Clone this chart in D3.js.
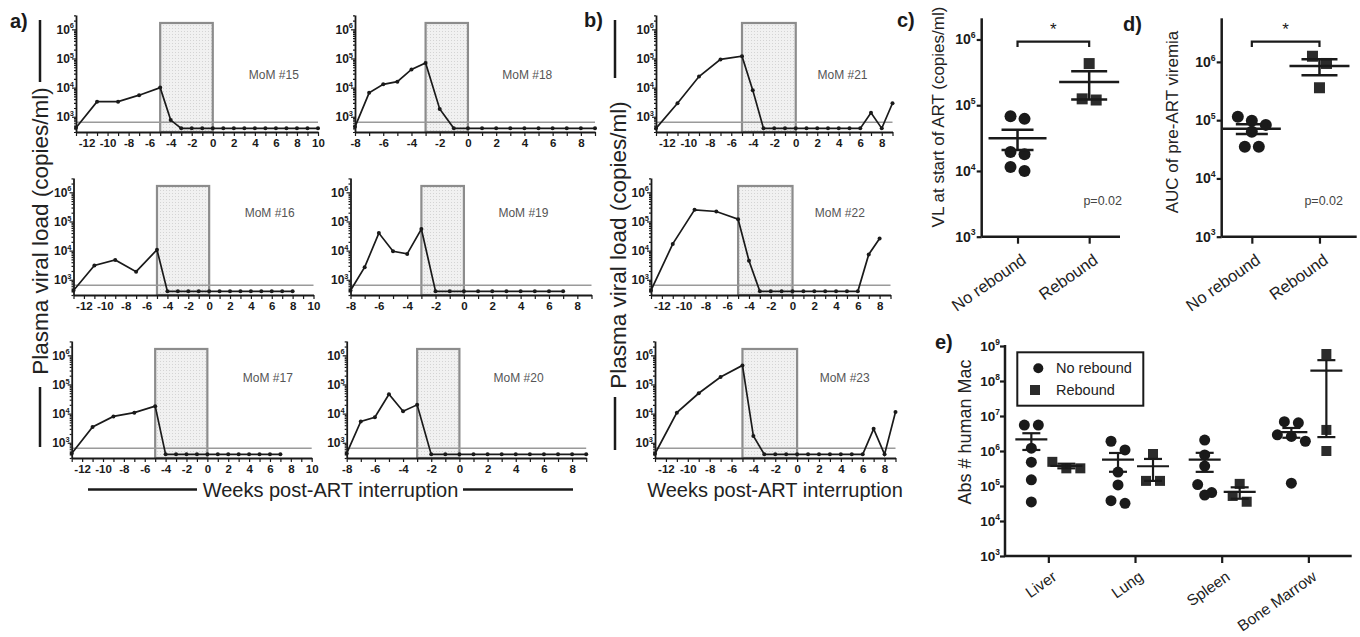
<!DOCTYPE html>
<html>
<head>
<meta charset="utf-8">
<script src="https://cdn.jsdelivr.net/npm/d3@7"></script>
<style>
body{margin:0;background:#fff;}
svg{font-family:Arial,"Liberation Sans",sans-serif;}
</style>
</head>
<body>
<svg id="chart" width="1360" height="637"></svg>
<script>
// ---- data: viral load per animal (copies/ml), weeks post-ART interruption
var mom15Weeks = [-13,-11,-9,-7,-5,-4,-3,-2,-1,0,1,2,3,4,5,6,7,8,9,10];
var mom15VL    = [420,3300,3300,5500,10000,770,400,400,400,400,400,400,400,400,400,400,400,400,400,400];
var mom18Weeks = [-8,-7,-6,-5,-4,-3,-2,-1,0,1,2,3,4,5,6,7,8,9];
var mom18VL    = [450,6600,13000,16000,42000,70000,1850,400,400,400,400,400,400,400,400,400,400,400];
var mom16Weeks = [-13,-11,-9,-7,-5,-4,-3,-2,-1,0,1,2,3,4,5,6,7,8];
var mom16VL    = [430,3100,4800,1900,10700,400,400,400,400,400,400,400,400,400,400,400,400,400];
var mom19Weeks = [-8,-7,-6,-5,-4,-3,-2,-1,0,1,2,3,4,5,6,7];
var mom19VL    = [430,2700,40000,9500,7700,55000,400,400,400,400,400,400,400,400,400,400];
var mom17Weeks = [-13,-11,-9,-7,-5,-4,-3,-2,-1,0,1,2,3,4,5,6,7];
var mom17VL    = [430,3500,8000,10800,18000,400,400,400,400,400,400,400,400,400,400,400,400];
var mom20Weeks = [-8,-7,-6,-5,-4,-3,-2,-1,0,1,2,3,4,5,6,7,8,9];
var mom20VL    = [430,5400,7500,46000,12000,20000,400,400,400,400,400,400,400,400,400,400,400,400];
var mom21Weeks = [-13,-11,-9,-7,-5,-4,-3,-2,-1,0,1,2,3,4,5,6,7,8,9];
var mom21VL    = [400,2900,24000,93000,120000,8200,400,400,400,400,400,400,400,400,400,400,1370,400,2900];
var mom22Weeks = [-13,-11,-9,-7,-5,-4,-3,-2,-1,0,1,2,3,4,5,6,7,8];
var mom22VL    = [430,17000,250000,220000,120000,4500,400,400,400,400,400,400,400,400,400,400,7400,26000];
var mom23Weeks = [-13,-11,-9,-7,-5,-4,-3,-2,-1,0,1,2,3,4,5,6,7,8,9];
var mom23VL    = [420,10800,50000,180000,450000,1700,400,400,400,400,400,400,400,400,400,400,3000,400,11300];
var detectionLimit = 650;

// panel c / d
var groups = ["No rebound", "Rebound"];
var cNoRebound = [62000, 68000, 19500, 18000, 10000, 11500];
var cRebound   = [430000, 120000, 125000];
var dNoRebound = [114000, 98000, 83000, 63000, 35000, 35000];
var dRebound   = [1250000, 940000, 360000];

// panel e
var tissues = ["Liver", "Lung", "Spleen", "Bone Marrow"];
var eNoRebound = [
  [5.5e6, 5.5e6, 1.2e6, 4.8e5, 1.5e5, 3.5e4],
  [1.9e6, 1.07e6, 2.5e5, 1.07e5, 3.8e4, 3.2e4],
  [2.05e6, 7.7e5, 3.7e5, 1.1e5, 6.5e4, 5.5e4],
  [6.9e6, 6.4e6, 2.9e6, 2.6e6, 1.9e6, 1.2e5]
];
var eRebound = [
  [4.9e5, 3.2e5, 3.2e5],
  [8.2e5, 1.4e5, 1.4e5],
  [1.15e5, 5.2e4, 3.55e4],
  [5.9e8, 4e6, 1e6]
];

var svg = d3.select("#chart");
var ink = "#1a1a1a";

// ---- layout of the small viral load panels
var rowBase = [132, 295, 458];
var labelY = [79, 217, 382];
var vlPanels = [
  {name:"MoM #15", weeks:mom15Weeks, vl:mom15VL, row:0, x0:76,    w:242,   xmin:-13, xmax:10, box:-5, labelAt:5.8},
  {name:"MoM #18", weeks:mom18Weeks, vl:mom18VL, row:0, x0:355,   w:240,   xmin:-8,  xmax:9,  box:-3, labelAt:4.2},
  {name:"MoM #16", weeks:mom16Weeks, vl:mom16VL, row:1, x0:73.5,  w:240,   xmin:-13, xmax:10, box:-5, labelAt:5.8},
  {name:"MoM #19", weeks:mom19Weeks, vl:mom19VL, row:1, x0:350.5, w:241,   xmin:-8,  xmax:9,  box:-3, labelAt:4.2},
  {name:"MoM #17", weeks:mom17Weeks, vl:mom17VL, row:2, x0:71.7,  w:240,   xmin:-13, xmax:10, box:-5, labelAt:5.8},
  {name:"MoM #20", weeks:mom20Weeks, vl:mom20VL, row:2, x0:346.7, w:239.5, xmin:-8,  xmax:9,  box:-3, labelAt:4.2},
  {name:"MoM #21", weeks:mom21Weeks, vl:mom21VL, row:0, x0:656,   w:236.5, xmin:-13, xmax:9,  box:-5, labelAt:4.35},
  {name:"MoM #22", weeks:mom22Weeks, vl:mom22VL, row:1, x0:651,   w:239.5, xmin:-13, xmax:9,  box:-5, labelAt:4.35},
  {name:"MoM #23", weeks:mom23Weeks, vl:mom23VL, row:2, x0:655,   w:240.5, xmin:-13, xmax:9,  box:-5, labelAt:4.35}
];

// dotted fill of the ART box
var defs = svg.append("defs");
var pat = defs.append("pattern").attr("id","dots").attr("width",3).attr("height",3)
  .attr("patternUnits","userSpaceOnUse");
pat.append("rect").attr("width",3).attr("height",3).attr("fill","#f1f1f1");
pat.append("rect").attr("x",1).attr("y",1).attr("width",1).attr("height",1).attr("fill","#d4d4d4");

function supLabel(g, x, y, exp, size, weight){
  var t = g.append("text").attr("x", x).attr("y", y).attr("text-anchor","end")
    .attr("font-size", size).attr("font-weight", weight).attr("fill", ink);
  t.append("tspan").text("10");
  t.append("tspan").attr("dy", -size*0.45).attr("font-size", size*0.62).text(exp);
}

function minorValues(lo, hi){
  var out = [];
  for (var k = 1; k <= 9; k++){
    for (var m = 2; m <= 9; m++){
      var v = m*Math.pow(10,k);
      if (v >= lo && v <= hi) out.push(v);
    }
  }
  return out;
}

function drawVL(p){
  var base = rowBase[p.row];
  var x = d3.scaleLinear().domain([p.xmin, p.xmax]).range([p.x0, p.x0 + p.w]);
  var y = d3.scaleLog().domain([300, 3.1e6]).range([base, base - 117]);
  var g = svg.append("g");

  // ART interruption box
  g.append("rect")
    .attr("x", x(p.box)).attr("y", y(1.65e6))
    .attr("width", x(0) - x(p.box)).attr("height", base - y(1.65e6))
    .attr("fill","url(#dots)").attr("stroke","#8c8c8c").attr("stroke-width",2.2);

  // limit of detection
  g.append("line").attr("x1", p.x0).attr("x2", p.x0 + p.w)
    .attr("y1", y(detectionLimit)).attr("y2", y(detectionLimit))
    .attr("stroke","#9a9a9a").attr("stroke-width",1.5);

  // axes
  var xa = g.append("g").attr("transform","translate(0," + base + ")")
    .call(d3.axisBottom(x).tickValues(d3.range(p.xmin, p.xmax + 1)).tickSize(4).tickSizeOuter(0)
      .tickPadding(3).tickFormat(function(d){ return d % 2 === 0 ? d : ""; }));
  xa.selectAll("text").attr("font-size", 11.5).attr("font-weight","bold").attr("fill", ink);
  g.append("g").attr("transform","translate(" + p.x0 + ",0)")
    .call(d3.axisLeft(y).tickValues([1e3,1e4,1e5,1e6]).tickSize(4).tickSizeOuter(0).tickFormat(""));
  g.append("g").attr("transform","translate(" + p.x0 + ",0)")
    .call(d3.axisLeft(y).tickValues(minorValues(300, 3.1e6)).tickSize(2).tickSizeOuter(0).tickFormat(""))
    .select(".domain").remove();
  g.selectAll(".domain").attr("stroke", ink).attr("stroke-width", 1.8);
  g.selectAll(".tick line").attr("stroke", ink).attr("stroke-width", 1.2);
  [3,4,5,6].forEach(function(e){
    supLabel(g, p.x0 - 2, y(Math.pow(10,e)) + 4.5, e, 12, "bold");
  });

  // series
  var pts = p.weeks.map(function(wk, i){ return [wk, p.vl[i]]; });
  g.append("path").datum(pts)
    .attr("d", d3.line().x(function(d){ return x(d[0]); }).y(function(d){ return y(d[1]); }))
    .attr("fill","none").attr("stroke", ink).attr("stroke-width",1.7);
  g.selectAll("circle.pt").data(pts).enter().append("circle")
    .attr("cx", function(d){ return x(d[0]); }).attr("cy", function(d){ return y(d[1]); })
    .attr("r", 2).attr("fill", ink);

  g.append("text").attr("x", x(p.labelAt)).attr("y", labelY[p.row])
    .attr("text-anchor","middle").attr("font-size",12).attr("fill","#555").text(p.name);
}
vlPanels.forEach(drawVL);

// ---- axis titles for a) and b)
function vTitle(cx, cy, txt, size){
  svg.append("text").attr("transform","translate(" + cx + "," + cy + ") rotate(-90)")
    .attr("text-anchor","middle").attr("dy","0.35em").attr("font-size", size).attr("fill","#222").text(txt);
}
function seg(x1, y1, x2, y2, w){
  svg.append("line").attr("x1",x1).attr("y1",y1).attr("x2",x2).attr("y2",y2)
    .attr("stroke", ink).attr("stroke-width", w || 2.5);
}
vTitle(40, 231, "Plasma viral load (copies/ml)", 22.5);
seg(40, 20, 40, 82); seg(40, 387, 40, 447);
vTitle(618, 245, "Plasma viral load (copies/ml)", 22.5);
seg(615, 20, 615, 78); seg(615, 397, 615, 450);
svg.append("text").attr("x", 330.5).attr("y", 497).attr("text-anchor","middle")
  .attr("font-size", 20).attr("fill","#222").text("Weeks post-ART interruption");
seg(88, 489.5, 197, 489.5); seg(463, 489.5, 573, 489.5);
svg.append("text").attr("x", 775).attr("y", 497).attr("text-anchor","middle")
  .attr("font-size", 20).attr("fill","#222").text("Weeks post-ART interruption");

// ---- panel letters
[["a)",10,28],["b)",584,27],["c)",897,27],["d)",1123,31],["e)",935,349]].forEach(function(l){
  svg.append("text").attr("x", l[1]).attr("y", l[2]).attr("font-size", 20)
    .attr("font-weight","bold").attr("fill", ink).text(l[0]);
});

// ---- scatter helpers (mean +/- SEM)
function rowsOffsets(vals, y, gap, step){
  var idx = vals.map(function(v, i){ return i; }).sort(function(a, b){ return vals[b] - vals[a]; });
  var off = [], row = [], top = null;
  function flush(){
    row.forEach(function(i, k){ off[i] = (k - (row.length - 1)/2) * step; });
    row = [];
  }
  idx.forEach(function(i){
    var py = y(vals[i]);
    if (top === null || py - top >= gap){ flush(); top = py; }
    row.push(i);
  });
  flush();
  return off;
}

function drawGroup(g, vals, cx, y, shape, size, gap, step, meanHalf, capHalf, sw){
  var off = rowsOffsets(vals, y, gap, step);
  if (shape === "circle"){
    g.selectAll(null).data(vals).enter().append("circle")
      .attr("cx", function(d, i){ return cx + off[i]; }).attr("cy", function(d){ return y(d); })
      .attr("r", size/2).attr("fill", ink);
  } else {
    g.selectAll(null).data(vals).enter().append("rect")
      .attr("x", function(d, i){ return cx + off[i] - size/2; }).attr("y", function(d){ return y(d) - size/2; })
      .attr("width", size).attr("height", size).attr("fill", "#2b2b2b");
  }
  var m = d3.mean(vals), se = d3.deviation(vals) / Math.sqrt(vals.length);
  var lines = [[cx - meanHalf, y(m), cx + meanHalf, y(m)],
               [cx - capHalf, y(m + se), cx + capHalf, y(m + se)],
               [cx - capHalf, y(m - se), cx + capHalf, y(m - se)],
               [cx, y(m + se), cx, y(m - se)]];
  lines.forEach(function(l){
    g.append("line").attr("x1", l[0]).attr("y1", l[1]).attr("x2", l[2]).attr("y2", l[3])
      .attr("stroke", ink).attr("stroke-width", sw);
  });
}

function catLabels(g, x, cats, base, size, drop){
  cats.forEach(function(c){
    g.append("text").attr("transform","translate(" + (x(c) + 3) + "," + (base + drop) + ") rotate(-35)")
      .attr("text-anchor","end").attr("dy","0.72em").attr("font-size", size).attr("fill","#222").text(c);
  });
}

function drawCompare(opt){
  var g = svg.append("g");
  var y = d3.scaleLog().domain([1e3, opt.top]).range([236.7, 18.3]);
  var x = d3.scalePoint().domain(groups).range(opt.xr).padding(0.5);
  g.append("line").attr("x1", opt.ax).attr("x2", opt.ax).attr("y1", 236.7).attr("y2", 18.3)
    .attr("stroke", ink).attr("stroke-width", 2.5);
  g.append("line").attr("x1", opt.ax).attr("x2", opt.axEnd).attr("y1", 236.7).attr("y2", 236.7)
    .attr("stroke", ink).attr("stroke-width", 2.5);
  var yl = g.append("g").attr("transform","translate(" + opt.ax + ",0)")
    .call(d3.axisLeft(y).tickValues([1e3,1e4,1e5,1e6]).tickSize(5).tickFormat(""));
  yl.select(".domain").remove();
  var xl = g.append("g").attr("transform","translate(0,236.7)")
    .call(d3.axisBottom(x).tickSize(7).tickFormat(""));
  xl.select(".domain").remove();
  g.selectAll(".tick line").attr("stroke", ink).attr("stroke-width", 2.2);
  [3,4,5,6].forEach(function(e){
    supLabel(g, opt.ax - 6, y(Math.pow(10,e)) + 5, e, 14, "bold");
  });
  drawGroup(g, opt.nr, x(groups[0]), y, "circle", 12, 12, 14, 29, 16, 2.5);
  drawGroup(g, opt.r, x(groups[1]), y, "square", 11, 12, 14, 30, 18, 2.5);
  // significance bracket
  var bx1 = x(groups[0]), bx2 = x(groups[1]);
  g.append("path").attr("d", "M" + bx1 + ",47V41.7H" + bx2 + "V47")
    .attr("fill","none").attr("stroke", ink).attr("stroke-width", 2.2);
  g.append("text").attr("x", (bx1 + bx2)/2).attr("y", 35).attr("text-anchor","middle")
    .attr("font-size", 17).attr("fill", ink).text("*");
  g.append("text").attr("x", opt.pX).attr("y", 205).attr("text-anchor","end")
    .attr("font-size", 12.5).attr("fill","#444").text("p=0.02");
  catLabels(g, x, groups, 236.7, 16.5, 16);
  vTitle(opt.titleX, opt.titleY, opt.title, 17);
}

drawCompare({nr:cNoRebound, r:cRebound, top:2.1e6, ax:981.7, axEnd:1120, xr:[981.7,1125], pX:1122,
  titleX:938, titleY:117, title:"VL at start of ART (copies/ml)"});
drawCompare({nr:dNoRebound, r:dRebound, top:5.6e6, ax:1221.7, axEnd:1356.7, xr:[1218,1353.3], pX:1343,
  titleX:1172, titleY:122, title:"AUC of pre-ART viremia"});

// ---- panel e
(function(){
  var g = svg.append("g");
  var base = 556, ax = 1005;
  var y = d3.scaleLog().domain([1e3, 1e9]).range([base, 346]);
  var x = d3.scalePoint().domain(tissues).range([ax, 1351.7]).padding(0.5);
  g.append("line").attr("x1", ax).attr("x2", ax).attr("y1", base).attr("y2", 345)
    .attr("stroke", ink).attr("stroke-width", 2.5);
  g.append("line").attr("x1", ax).attr("x2", 1351.7).attr("y1", base).attr("y2", base)
    .attr("stroke", ink).attr("stroke-width", 2.5);
  var yl = g.append("g").attr("transform","translate(" + ax + ",0)")
    .call(d3.axisLeft(y).tickValues([1e3,1e4,1e5,1e6,1e7,1e8,1e9]).tickSize(5).tickFormat(""));
  yl.select(".domain").remove();
  var xl = g.append("g").attr("transform","translate(0," + base + ")")
    .call(d3.axisBottom(x).tickSize(7).tickFormat(""));
  xl.select(".domain").remove();
  g.selectAll(".tick line").attr("stroke", ink).attr("stroke-width", 2.2);
  d3.range(3, 10).forEach(function(e){
    supLabel(g, ax - 5, y(Math.pow(10,e)) + 5, e, 13.5, "bold");
  });
  tissues.forEach(function(t, i){
    drawGroup(g, eNoRebound[i], x(t) - 17, y, "circle", 11, 10, 14, 16, 9, 2.2);
    drawGroup(g, eRebound[i], x(t) + 18, y, "square", 10, 10, 14, 16, 9, 2.2);
  });
  catLabels(g, x, tissues, base, 15.5, 14);
  vTitle(965, 432, "Abs # human Mac", 18);

  // legend
  g.append("rect").attr("x", 1017.3).attr("y", 352.3).attr("width", 126).attr("height", 53.4)
    .attr("fill","#fff").attr("stroke", ink).attr("stroke-width", 2);
  g.append("circle").attr("cx", 1038.3).attr("cy", 368.3).attr("r", 5).attr("fill", ink);
  g.append("rect").attr("x", 1030).attr("y", 385).attr("width", 10).attr("height", 10).attr("fill", "#2b2b2b");
  g.append("text").attr("x", 1056).attr("y", 368.3).attr("dy","0.35em").attr("font-size", 14.5)
    .attr("fill","#222").text(groups[0]);
  g.append("text").attr("x", 1056).attr("y", 390).attr("dy","0.35em").attr("font-size", 14.5)
    .attr("fill","#222").text(groups[1]);
})();
</script>
</body>
</html>
